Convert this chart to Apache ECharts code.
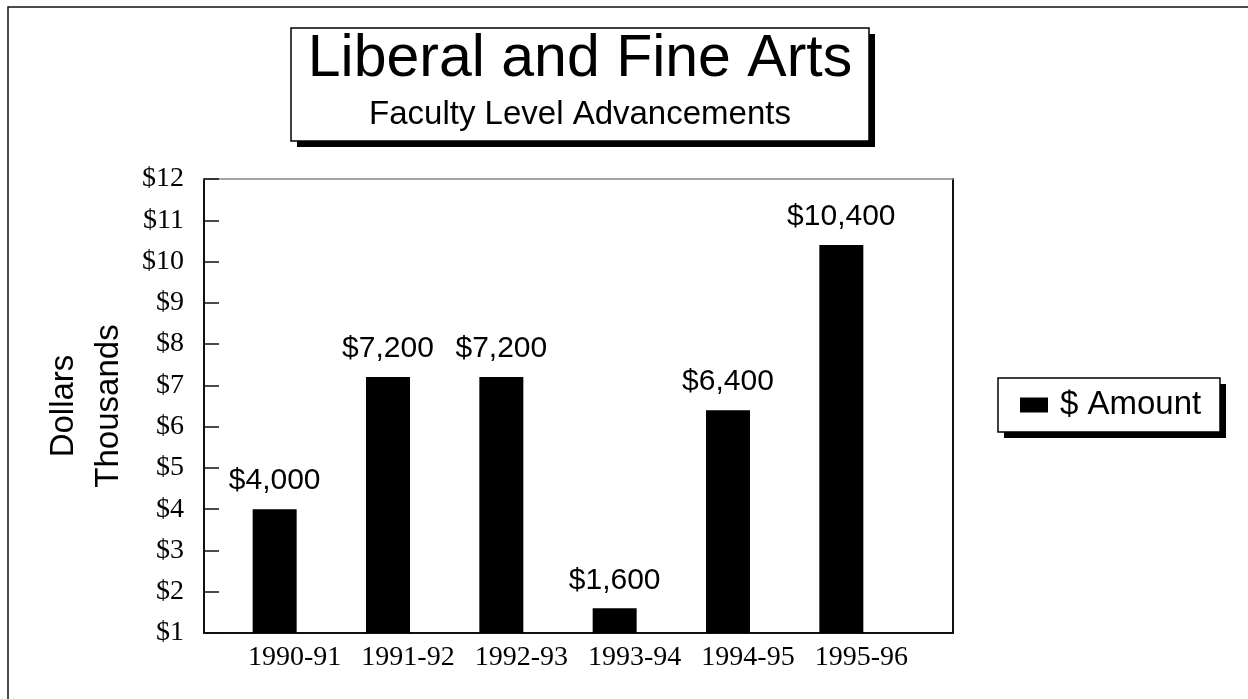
<!DOCTYPE html>
<html>
<head>
<meta charset="utf-8">
<title>Liberal and Fine Arts</title>
<script src="https://cdn.jsdelivr.net/npm/echarts@6/dist/echarts.min.js"></script>
<style>
  html, body { margin: 0; padding: 0; background: #fff; }
  #main { width: 1248px; height: 699px; }
</style>
</head>
<body>
<div id="main"></div>
<script>
// data (thousands of dollars)
var years = ['1990-91', '1991-92', '1992-93', '1993-94', '1994-95', '1995-96'];
var amounts = [4.0, 7.2, 7.2, 1.6, 6.4, 10.4];
var yTicks = [1, 12, 1]; // min, max, step

var serif = 'Liberation Serif';
var sans = 'Liberation Sans';

function money(v) {
  return '$' + Math.round(v * 1000).toString().replace(/\B(?=(\d{3})+(?!\d))/g, ',');
}

var dom = document.getElementById('main');
var myChart = echarts.init(dom);
var option = {
  backgroundColor: '#fff',
  animation: false,
  graphic: [
    // outer page frame
    { type: 'rect', shape: { x: 8, y: 7, width: 1300, height: 760 }, style: { fill: 'none', stroke: '#111', lineWidth: 1.5 }, z: 1 },
    // title box with drop shadow
    { type: 'rect', shape: { x: 297, y: 34, width: 578, height: 113 }, style: { fill: '#000' }, z: 1 },
    { type: 'rect', shape: { x: 291, y: 28, width: 578, height: 113 }, style: { fill: '#fff', stroke: '#000', lineWidth: 1.5 }, z: 2 },
    { type: 'text', x: 580, y: 60, z: 3,
      style: { text: 'Liberal and Fine Arts', fill: '#000', font: '59px ' + sans, textAlign: 'center', textVerticalAlign: 'middle' } },
    { type: 'text', x: 580, y: 115, z: 3,
      style: { text: 'Faculty Level Advancements', fill: '#000', font: '33px ' + sans, textAlign: 'center', textVerticalAlign: 'middle' } },
    // legend box with drop shadow
    { type: 'rect', shape: { x: 1004, y: 384, width: 222, height: 54 }, style: { fill: '#000' }, z: 1 },
    { type: 'rect', shape: { x: 998, y: 378, width: 222, height: 54 }, style: { fill: '#fff', stroke: '#000', lineWidth: 1.5 }, z: 2 }
  ],
  legend: {
    left: 1020,
    top: 388,
    orient: 'vertical',
    icon: 'rect',
    itemWidth: 28,
    itemHeight: 15,
    padding: 0,
    textStyle: { fontFamily: sans, fontSize: 33, lineHeight: 34, color: '#000', padding: [0, 0, 0, 7] },
    data: ['$ Amount']
  },
  grid: [
    { left: 218, right: 350, top: 179, bottom: 66 },
    { left: 204, right: 295, top: 179, bottom: 66 }
  ],
  xAxis: [
    {
      gridIndex: 0,
      type: 'category',
      data: years,
      axisLine: { show: false },
      axisTick: { show: false },
      axisLabel: { interval: 0, fontFamily: serif, fontSize: 28, color: '#000', margin: 11, padding: [0, 0, 0, 40] }
    },
    {
      gridIndex: 1, type: 'category', data: years, position: 'bottom',
      axisLine: { lineStyle: { color: '#111', width: 2 } },
      axisTick: { show: false }, axisLabel: { show: false }
    },
    {
      gridIndex: 1, type: 'category', data: years, position: 'top',
      axisLine: { lineStyle: { color: '#888', width: 1.5 } },
      axisTick: { show: false }, axisLabel: { show: false }
    }
  ],
  yAxis: [
    { gridIndex: 0, type: 'value', min: yTicks[0], max: yTicks[1], show: false },
    {
      gridIndex: 1,
      type: 'value',
      min: yTicks[0],
      max: yTicks[1],
      interval: yTicks[2],
      name: 'Dollars\nThousands',
      nameLocation: 'middle',
      nameRotate: 90,
      nameGap: 72,
      nameTextStyle: { fontFamily: sans, fontSize: 33, lineHeight: 45, color: '#000' },
      splitLine: { show: false },
      axisLine: { show: true, lineStyle: { color: '#111', width: 2 } },
      axisTick: { show: true, inside: true, length: 15, lineStyle: { color: '#111', width: 1.5 } },
      axisLabel: {
        fontFamily: serif, fontSize: 28, color: '#000', margin: 20, padding: [0, 0, 6, 0],
        formatter: function (v) { return '$' + v; }
      }
    },
    {
      gridIndex: 1, type: 'value', min: yTicks[0], max: yTicks[1], position: 'right',
      splitLine: { show: false },
      axisLine: { show: true, lineStyle: { color: '#111', width: 2 } },
      axisTick: { show: false }, axisLabel: { show: false }
    }
  ],
  series: [{
    name: '$ Amount',
    type: 'bar',
    xAxisIndex: 0,
    yAxisIndex: 0,
    barWidth: 44,
    itemStyle: { color: '#000' },
    label: {
      show: true,
      position: 'top',
      distance: 13,
      fontFamily: sans,
      fontSize: 30,
      color: '#000',
      formatter: function (p) { return money(p.value); }
    },
    data: amounts
  }]
};

myChart.setOption(option);
</script>
</body>
</html>
